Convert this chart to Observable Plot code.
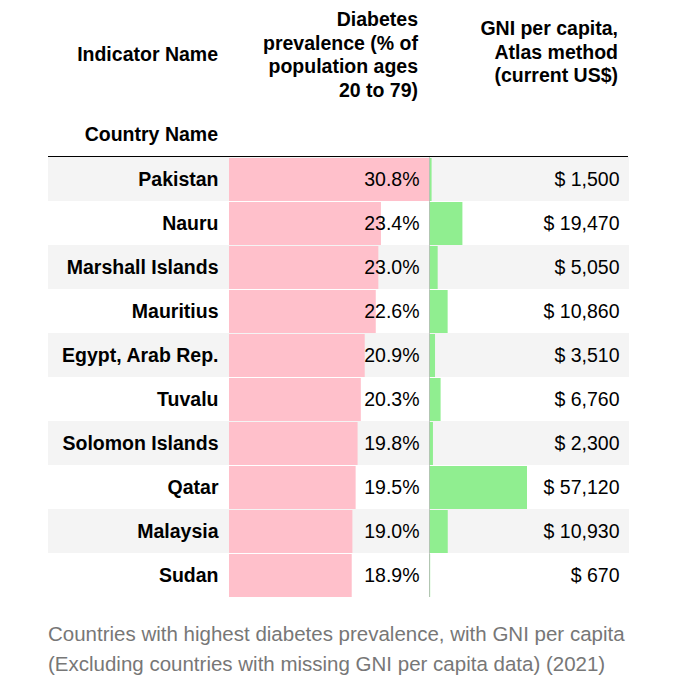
<!DOCTYPE html>
<html><head><meta charset="utf-8">
<script src="https://cdn.jsdelivr.net/npm/d3@7"></script>
<script src="https://cdn.jsdelivr.net/npm/@observablehq/plot@0.6"></script>
<style>
body{margin:0;background:#fff;font-family:"Liberation Sans",Arial,sans-serif;}
#wrap{position:absolute;left:48px;top:0;width:580px;}
#head{position:relative;height:156px;border-bottom:1px solid #000;font-weight:bold;font-size:19.5px;line-height:23.5px;color:#000;}
.h{position:absolute;text-align:right;white-space:nowrap;}
#cols{display:flex;}
#cap{color:#777;font-size:20.5px;line-height:30px;margin-top:22px;white-space:nowrap;}
</style></head><body>
<div id="wrap">
<div id="head">
<div class="h" style="left:0;width:170px;top:43px">Indicator Name</div>
<div class="h" style="left:0;width:170px;top:123px">Country Name</div>
<div class="h" style="left:181px;width:189px;top:8px">Diabetes<br>prevalence (% of<br>population ages<br>20 to 79)</div>
<div class="h" style="left:381px;width:189px;top:17px">GNI per capita,<br>Atlas method<br>(current US$)</div>
</div>
<div id="cols"></div>
<div id="cap">Countries with highest diabetes prevalence, with GNI per capita<br>(Excluding countries with missing GNI per capita data) (2021)</div>
</div>
<script>
const countries = ["Pakistan","Nauru","Marshall Islands","Mauritius","Egypt, Arab Rep.","Tuvalu","Solomon Islands","Qatar","Malaysia","Sudan"];
const diabetes = [30.8,23.4,23.0,22.6,20.9,20.3,19.8,19.5,19.0,18.9];
const gni = [1500,19470,5050,10860,3510,6760,2300,57120,10930,670];

const rows = countries.map((c,i)=>({country:c, diab:diabetes[i], gni:gni[i], stripe:i%2===0}));
const stripes = rows.filter(d=>d.stripe);
const H = 440;
const ybase = {domain:countries, padding:0, axis:null};
const font = {fontSize:19.5, fill:"#000"};

function col(width, domain, extra){
  return Plot.plot({
    width, height:H, margin:0, style:{fontFamily:"Liberation Sans, Arial, sans-serif", overflow:"visible"},
    x:{domain, axis:null}, y:ybase,
    marks:[
      Plot.barX(stripes,{y:"country", x1:domain[0], x2:domain[1], fill:"#f4f4f4"}),
      ...extra
    ]
  });
}
const gmax = d3.max(gni)*200/98;
const c1 = col(181,[0,1],[
  Plot.text(rows,{y:"country", x:1, text:"country", textAnchor:"end", dx:-11, fontWeight:"bold", ...font})
]);
const c2 = col(200,[0,30.8],[
  Plot.barX(rows,{y:"country", x:"diab", fill:"pink", insetTop:1, insetBottom:0}),
  Plot.text(rows,{y:"country", x:30.8, text:d=>d.diab.toFixed(1)+"%", textAnchor:"end", dx:-10, ...font})
]);
const c3 = col(200,[0,gmax],[
  Plot.barX(rows,{y:"country", x:"gni", fill:"lightgreen", insetTop:1, insetBottom:0}),
  Plot.ruleX([0],{stroke:"#bbb", strokeWidth:0.8}),
  Plot.text(rows,{y:"country", x:gmax, text:d=>"$ "+d3.format(",")(d.gni), textAnchor:"end", dx:-10, ...font})
]);
const cols = document.getElementById("cols");
[c1,c2,c3].forEach(c=>cols.appendChild(c));
</script>
</body></html>
